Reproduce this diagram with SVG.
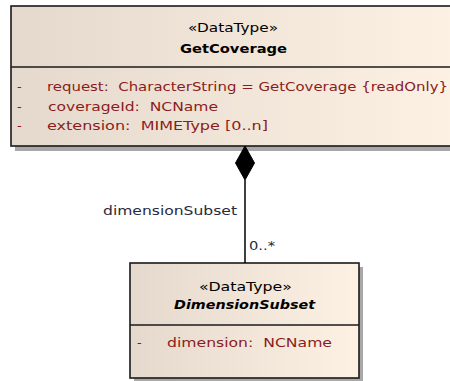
<svg xmlns="http://www.w3.org/2000/svg" width="450" height="381" viewBox="0 0 450 381">
<defs>
<linearGradient id="fill" x1="0" y1="0" x2="1" y2="0">
<stop offset="0" stop-color="#e4d9cc"/>
<stop offset="1" stop-color="#fcf1e3"/>
</linearGradient>
<style>
.box{fill:url(#fill);stroke:#1a1a1a;stroke-width:1.6}
.div{stroke:#1a1a1a;stroke-width:1.6}
.sh{fill:#a8a8a8}
.st{font-family:"DejaVu Sans",sans-serif;font-size:12.5px;fill:#000;text-anchor:middle}
.nm{font-family:"DejaVu Sans",sans-serif;font-size:13px;font-weight:bold;fill:#000;text-anchor:middle}
.at{font-family:"DejaVu Sans",sans-serif;font-size:13px;fill:#8b1c1c}
.lb{font-family:"DejaVu Sans",sans-serif;font-size:12.5px;fill:#2a2a3a}
.ln{stroke:#000;stroke-width:1.5;fill:none}
</style>
</defs>
<g id="GetCoverage">
<rect class="sh" x="15" y="146" width="440" height="5"/>
<rect class="box" x="11" y="6" width="446" height="140"/>
<line class="div" x1="11" y1="67" x2="457" y2="67"/>
<text class="st" x="233" y="32" textLength="90" lengthAdjust="spacingAndGlyphs">«DataType»</text>
<text class="nm" x="233.5" y="53" textLength="107" lengthAdjust="spacingAndGlyphs">GetCoverage</text>
<text class="at" x="17" y="91">-</text>
<text class="at" x="47" y="91" textLength="401" lengthAdjust="spacingAndGlyphs" xml:space="preserve">request:  CharacterString = GetCoverage {readOnly}</text>
<text class="at" x="17" y="111">-</text>
<text class="at" x="48" y="111" textLength="170" lengthAdjust="spacingAndGlyphs" xml:space="preserve">coverageId:  NCName</text>
<text class="at" x="17" y="130">-</text>
<text class="at" x="47" y="130" textLength="221" lengthAdjust="spacingAndGlyphs" xml:space="preserve">extension:  MIMEType [0..n]</text>
</g>
<g id="DimensionSubset">
<rect class="sh" x="134" y="378" width="229" height="3"/>
<rect class="sh" x="359" y="267" width="4" height="114"/>
<rect class="box" x="130" y="263" width="229" height="115"/>
<line class="div" x1="130" y1="325" x2="359" y2="325"/>
<text class="st" x="245.5" y="291" textLength="93" lengthAdjust="spacingAndGlyphs">«DataType»</text>
<text class="nm" x="244.5" y="309" font-style="italic" textLength="141" lengthAdjust="spacingAndGlyphs">DimensionSubset</text>
<text class="at" x="137" y="347">-</text>
<text class="at" x="167" y="347" textLength="165" lengthAdjust="spacingAndGlyphs" xml:space="preserve">dimension:  NCName</text>
</g>
<g id="connectors">
<line class="ln" x1="245" y1="180" x2="245" y2="263"/>
<polygon points="245,146 254.5,163 245,180 235.5,163" fill="#000" stroke="#000" stroke-width="1"/>
<text class="lb" x="103" y="215" textLength="134" lengthAdjust="spacingAndGlyphs">dimensionSubset</text>
<text class="lb" x="249" y="250" textLength="26" lengthAdjust="spacingAndGlyphs">0..*</text>
</g>
</svg>
